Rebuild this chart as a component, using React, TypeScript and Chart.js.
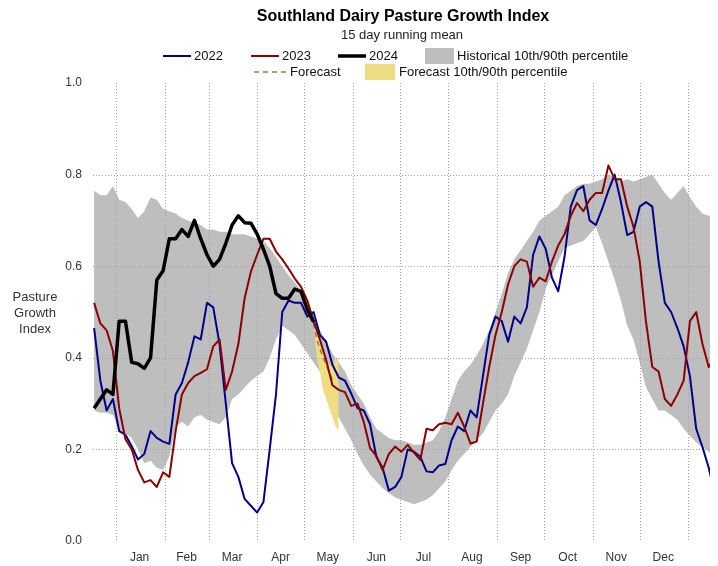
import React, { useEffect, useRef } from 'react';
import { Chart, registerables } from 'chart.js';

Chart.register(...registerables);

const FONT = "'Liberation Sans', Arial, Helvetica, sans-serif";

const titleText = 'Southland Dairy Pasture Growth Index';
const subtitleText = '15 day running mean';
const yTitleLines = ['Pasture', 'Growth', 'Index'];

const monthLabels = ['Jan', 'Feb', 'Mar', 'Apr', 'May', 'Jun', 'Jul', 'Aug', 'Sep', 'Oct', 'Nov', 'Dec'];
const monthMidDays = [15, 45, 74, 105, 135, 166, 196, 227, 258, 288, 319, 349];
const monthStartDays = [0, 31, 59, 90, 120, 151, 181, 212, 243, 273, 304, 334, 365];
const yTicks = [0, 0.2, 0.4, 0.6, 0.8, 1.0];
const yGridValues = [0.2, 0.4, 0.6, 0.8];

// day of year (0 = 1 Jan)
const days = [-14, -10, -6, -2, 2, 6, 10, 14, 18, 22, 26, 30, 34, 38, 42, 46, 50, 54, 58, 62, 66, 70, 74, 78, 82, 86, 90, 94, 98, 102, 106, 110, 114, 118, 122, 126, 130, 134, 138, 142, 146, 150, 154, 158, 162, 166, 170, 174, 178, 182, 186, 190, 194, 198, 202, 206, 210, 214, 218, 222, 226, 230, 234, 238, 242, 246, 250, 254, 258, 262, 266, 270, 274, 278, 282, 286, 290, 294, 298, 302, 306, 310, 314, 318, 322, 326, 330, 334, 338, 342, 346, 350, 354, 358, 362, 366, 370, 374, 378, 380];

const y2022 = [0.465, 0.35, 0.285, 0.31, 0.24, 0.232, 0.207, 0.178, 0.19, 0.24,
  0.225, 0.217, 0.212, 0.32, 0.345, 0.39, 0.447, 0.44, 0.52, 0.51,
  0.43, 0.30, 0.17, 0.14, 0.092, 0.077, 0.062, 0.085, 0.20, 0.32,
  0.50, 0.525, 0.52, 0.52, 0.49, 0.50, 0.45, 0.435, 0.385, 0.357,
  0.35, 0.322, 0.29, 0.285, 0.255, 0.184, 0.16, 0.11, 0.118, 0.14,
  0.2, 0.195, 0.184, 0.152, 0.15, 0.165, 0.168, 0.22, 0.25, 0.24,
  0.285, 0.27, 0.36, 0.45, 0.49, 0.48, 0.435, 0.49, 0.475, 0.51,
  0.625, 0.665, 0.638, 0.575, 0.545, 0.62, 0.73, 0.766, 0.775, 0.70,
  0.69, 0.725, 0.765, 0.80, 0.74, 0.668, 0.675, 0.73, 0.74, 0.73,
  0.61, 0.52, 0.50, 0.465, 0.425, 0.36, 0.245, 0.205, 0.16, 0.13];

const y2023 = [0.52, 0.475, 0.46, 0.415, 0.29, 0.222, 0.2, 0.155, 0.128, 0.133,
  0.118, 0.15, 0.14, 0.24, 0.32, 0.345, 0.36, 0.367, 0.375, 0.425,
  0.44, 0.33, 0.37, 0.43, 0.53, 0.588, 0.625, 0.66, 0.66, 0.632,
  0.615, 0.595, 0.573, 0.555, 0.525, 0.48, 0.44, 0.395, 0.34, 0.33,
  0.325, 0.295, 0.30, 0.26, 0.203, 0.186, 0.155, 0.19, 0.206, 0.195,
  0.21, 0.193, 0.177, 0.245, 0.242, 0.255, 0.258, 0.255, 0.28, 0.25,
  0.213, 0.217, 0.30, 0.38, 0.45, 0.50, 0.56, 0.60, 0.615, 0.61,
  0.555, 0.575, 0.567, 0.61, 0.645, 0.67, 0.71, 0.738, 0.72, 0.745,
  0.76, 0.76, 0.82, 0.79, 0.79, 0.73, 0.686, 0.61, 0.478, 0.38,
  0.37, 0.31, 0.295, 0.32, 0.35, 0.48, 0.50, 0.43, 0.38, 0.39];

const y2024 = [0.29, 0.31, 0.33, 0.32, 0.48, 0.48, 0.39, 0.387, 0.377, 0.40,
  0.57, 0.59, 0.66, 0.66, 0.68, 0.665, 0.70, 0.66, 0.625, 0.60,
  0.615, 0.65, 0.69, 0.71, 0.695, 0.694, 0.67, 0.637, 0.60, 0.54,
  0.53, 0.53, 0.55, 0.545, 0.505, 0.478];

const forecastDays = [126, 128, 131, 134, 137, 139];
const forecastValues = [0.475, 0.44, 0.41, 0.385, 0.36, 0.345];

const fcBandDays = [126, 128, 130, 132, 134, 136, 138, 140, 142];
const fcBandHi = [0.475, 0.46, 0.44, 0.42, 0.40, 0.385, 0.38, 0.40, 0.40];
const fcBandLo = [0.475, 0.40, 0.37, 0.33, 0.31, 0.29, 0.27, 0.25, 0.24];

const histHi = [0.765, 0.755, 0.755, 0.775, 0.745, 0.74, 0.725, 0.705, 0.72, 0.75,
  0.745, 0.725, 0.72, 0.715, 0.705, 0.70, 0.695, 0.69, 0.68, 0.68,
  0.675, 0.675, 0.67, 0.67, 0.67, 0.665, 0.66, 0.655, 0.64, 0.62,
  0.60, 0.58, 0.565, 0.545, 0.52, 0.49, 0.46, 0.435, 0.41, 0.39,
  0.37, 0.34, 0.32, 0.30, 0.27, 0.245, 0.235, 0.225, 0.22, 0.22,
  0.215, 0.21, 0.21, 0.215, 0.22, 0.24, 0.27, 0.31, 0.35, 0.37,
  0.385, 0.405, 0.43, 0.46, 0.50, 0.54, 0.585, 0.615, 0.635, 0.655,
  0.675, 0.70, 0.71, 0.72, 0.73, 0.755, 0.765, 0.775, 0.78, 0.78,
  0.785, 0.79, 0.80, 0.795, 0.785, 0.79, 0.785, 0.79, 0.795, 0.80,
  0.78, 0.76, 0.745, 0.76, 0.775, 0.75, 0.73, 0.715, 0.71, 0.71];

const histLo = [0.285, 0.28, 0.28, 0.275, 0.24, 0.235, 0.225, 0.20, 0.17, 0.175,
  0.16, 0.155, 0.185, 0.25, 0.26, 0.25, 0.27, 0.275, 0.265, 0.26,
  0.255, 0.27, 0.31, 0.32, 0.335, 0.35, 0.36, 0.37, 0.40, 0.44,
  0.47, 0.46, 0.45, 0.43, 0.41, 0.39, 0.37, 0.34, 0.30, 0.27,
  0.245, 0.22, 0.19, 0.165, 0.145, 0.13, 0.115, 0.105, 0.095, 0.09,
  0.085, 0.08, 0.085, 0.09, 0.10, 0.115, 0.13, 0.155, 0.175, 0.19,
  0.205, 0.22, 0.235, 0.26, 0.285, 0.30, 0.32, 0.36, 0.39, 0.42,
  0.46, 0.50, 0.55, 0.58, 0.61, 0.64, 0.645, 0.65, 0.655, 0.67,
  0.685, 0.65, 0.61, 0.57, 0.525, 0.47, 0.44, 0.39, 0.335, 0.31,
  0.285, 0.285, 0.275, 0.265, 0.245, 0.23, 0.215, 0.205, 0.195, 0.185];

const COL_2022 = '#00008b';
const COL_2023 = '#8b0000';
const COL_2024 = '#000000';
const COL_HIST = '#bebebe';
const COL_FCBAND = '#eedd82';
const COL_FC = '#8b814c';

const pts = (xs: number[], ys: number[]) => ys.map((y, i) => ({ x: xs[i], y }));

export default function App() {
  const ref = useRef<HTMLCanvasElement>(null);

  useEffect(() => {
    const canvas = ref.current;
    if (!canvas) return;
    Chart.defaults.font.family = FONT;

    const overlay = {
      id: 'overlay',
      afterDatasetDraw(chart: any, args: any) {
        if (args.index !== 3) return;
        const { ctx, chartArea: a, scales } = chart;
        const x = scales.x;
        const y = scales.y;
        ctx.save();
        ctx.strokeStyle = '#a0a0a0';
        ctx.lineWidth = 1;
        ctx.setLineDash([1, 2]);
        for (const d of monthStartDays) {
          const px = Math.round(x.getPixelForValue(d)) + 0.5;
          ctx.beginPath();
          ctx.moveTo(px, a.top);
          ctx.lineTo(px, a.bottom);
          ctx.stroke();
        }
        for (const v of yGridValues) {
          const py = Math.round(y.getPixelForValue(v)) + 0.5;
          ctx.beginPath();
          ctx.moveTo(a.left, py);
          ctx.lineTo(a.right, py);
          ctx.stroke();
        }
        ctx.restore();
      },
      afterDraw(chart: any) {
        const { ctx } = chart;
        ctx.save();
        ctx.textBaseline = 'middle';
        // title
        ctx.fillStyle = '#000';
        ctx.textAlign = 'center';
        ctx.font = `bold 16px ${FONT}`;
        ctx.fillText(titleText, 403, 17);
        ctx.font = `13px ${FONT}`;
        ctx.fillStyle = '#222';
        ctx.fillText(subtitleText, 402, 35);
        // y title
        ctx.fillStyle = '#333';
        yTitleLines.forEach((t, i) => ctx.fillText(t, 35, 297 + i * 16));
        // legend
        ctx.textAlign = 'left';
        ctx.fillStyle = '#111';
        const r1 = 56;
        const r2 = 72;
        const lineItem = (x0: number, x1: number, yy: number, col: string, w: number, dash: number[]) => {
          ctx.save();
          ctx.strokeStyle = col;
          ctx.lineWidth = w;
          ctx.setLineDash(dash);
          ctx.beginPath();
          ctx.moveTo(x0, yy);
          ctx.lineTo(x1, yy);
          ctx.stroke();
          ctx.restore();
        };
        lineItem(163, 191, r1, COL_2022, 2, []);
        ctx.fillText('2022', 194, r1);
        lineItem(251, 279, r1, COL_2023, 2, []);
        ctx.fillText('2023', 282, r1);
        lineItem(338, 366, r1, COL_2024, 3.5, []);
        ctx.fillText('2024', 369, r1);
        ctx.fillStyle = COL_HIST;
        ctx.fillRect(425, 48, 29, 16);
        ctx.fillStyle = '#111';
        ctx.fillText('Historical 10th/90th percentile', 457, r1);
        lineItem(254, 287, r2, COL_FC, 1.5, [5, 4]);
        ctx.fillText('Forecast', 290, r2);
        ctx.fillStyle = COL_FCBAND;
        ctx.fillRect(365, 64, 30, 16);
        ctx.fillStyle = '#111';
        ctx.fillText('Forecast 10th/90th percentile', 399, r2);
        ctx.restore();
      },
    };

    const hidden = {
      borderColor: 'rgba(0,0,0,0)',
      borderWidth: 0,
      pointRadius: 0,
      tension: 0,
    };
    const line = (label: string, data: any, color: string, width: number, order: number, dash: number[] = []) => ({
      label,
      data,
      borderColor: color,
      borderWidth: width,
      borderDash: dash,
      pointRadius: 0,
      pointHoverRadius: 0,
      fill: false,
      tension: 0,
      borderJoinStyle: 'round',
      order,
    });

    const chart = new Chart(canvas, {
      type: 'line',
      data: {
        datasets: [
          { ...hidden, label: 'hist lo', data: pts(days, histLo), fill: false, order: 8 },
          { ...hidden, label: 'Historical 10th/90th percentile', data: pts(days, histHi), fill: '-1', backgroundColor: COL_HIST, order: 7 },
          { ...hidden, label: 'fc lo', data: pts(fcBandDays, fcBandLo), fill: false, order: 6 },
          { ...hidden, label: 'Forecast 10th/90th percentile', data: pts(fcBandDays, fcBandHi), fill: '-1', backgroundColor: COL_FCBAND, order: 5 },
          line('Forecast', pts(forecastDays, forecastValues), COL_FC, 1.5, 4, [5, 4]),
          line('2022', pts(days, y2022), COL_2022, 2, 3),
          line('2023', pts(days, y2023), COL_2023, 2, 2),
          line('2024', pts(days.slice(0, y2024.length), y2024), COL_2024, 3.5, 1),
        ] as any,
      },
      options: {
        responsive: false,
        animation: false,
        devicePixelRatio: 1,
        events: [],
        layout: { padding: { top: 83, right: 8, left: 0, bottom: 0 } },
        plugins: {
          legend: { display: false },
          tooltip: { enabled: false },
          title: { display: false },
        },
        scales: {
          x: {
            type: 'linear',
            min: -14.7,
            max: 378.8,
            grid: { display: false, drawTicks: false },
            border: { display: false },
            afterBuildTicks: (scale: any) => {
              scale.ticks = [...monthStartDays, ...monthMidDays].sort((a, b) => a - b).map((v) => ({ value: v }));
            },
            afterFit: (scale: any) => {
              scale.height = 25;
            },
            ticks: {
              autoSkip: false,
              maxRotation: 0,
              minRotation: 0,
              padding: 9,
              color: '#333',
              font: { size: 12, family: FONT },
              callback: (v: any) => {
                const i = monthMidDays.indexOf(Number(v));
                return i >= 0 ? monthLabels[i] : '';
              },
            },
          },
          y: {
            type: 'linear',
            min: 0,
            max: 1,
            grid: { display: false, drawTicks: false },
            border: { display: false },
            afterBuildTicks: (scale: any) => {
              scale.ticks = yTicks.map((v) => ({ value: v }));
            },
            afterFit: (scale: any) => {
              scale.width = 93;
            },
            ticks: {
              padding: 11,
              color: '#333',
              font: { size: 12, family: FONT },
              callback: (v: any) => Number(v).toFixed(1),
            },
          },
        },
      } as any,
      plugins: [overlay],
    });

    return () => chart.destroy();
  }, []);

  return (
    <div style={{ position: 'fixed', left: 0, top: 0, width: 718, height: 566, background: '#fff' }}>
      <canvas ref={ref} width={718} height={566} style={{ display: 'block' }} />
    </div>
  );
}
